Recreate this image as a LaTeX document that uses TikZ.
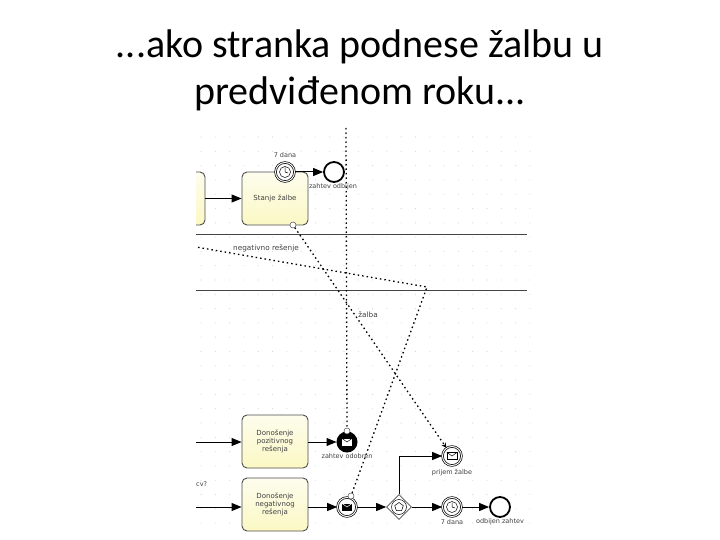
\documentclass[tikz,border=0pt]{standalone}
\usepackage{fontspec}
\setmainfont{Carlito}
\newfontfamily\bpmnfont{DejaVu Sans}
\usetikzlibrary{arrows.meta,shapes.geometric,shapes.misc}
\definecolor{taskfill}{HTML}{FBF8C4}
\definecolor{griddot}{HTML}{D4D4D4}
\definecolor{laneline}{HTML}{444444}
\begin{document}
\begin{tikzpicture}[
		x=1pt, y=-1pt,
		>={Triangle[length=10pt,width=8pt]},
		headline/.style={font=\fontsize{40}{47}\selectfont, align=center, text=black},
		taskbox/.style={rectangle, rounded corners=5pt, draw=black!70, line width=0.9pt, top color=white!70!taskfill, bottom color=taskfill, minimum width=66pt, minimum height=53pt, inner sep=0pt, align=center, font=\bpmnfont\fontsize{7}{8}\selectfont, text=black!75},
		evt/.style={circle, draw=black, line width=1pt, fill=white, minimum size=20pt, inner sep=0pt},
		endevt/.style={evt, line width=1.8pt},
		throwevt/.style={evt, double, double distance=1pt, line width=0.7pt, minimum size=19pt},
		blackevt/.style={evt, fill=black},
		gateway/.style={diamond, draw=black!70, line width=0.7pt, fill=white, minimum size=25pt, inner sep=0pt},
		smallmark/.style={circle, draw=black!70, line width=0.5pt, fill=white, minimum size=6pt, inner sep=0pt},
		evtlabel/.style={font=\bpmnfont\fontsize{6.5}{7}\selectfont, text=black!75, inner sep=0pt},
		biglabel/.style={evtlabel, font=\bpmnfont\fontsize{7.3}{8}\selectfont},
		seqflow/.style={->, line width=1pt, black},
		msgflow/.style={line width=1.3pt, black, dash pattern=on 1.5pt off 3pt},
		laneedge/.style={line width=0.9pt, laneline}
	]
		\useasboundingbox (0,0) rectangle (720,540);
		% heading
		\node[headline] (title) at (360,70) {...ako stranka podnese žalbu u\\predviđenom roku...};
		% grid
		\foreach \i in {0,...,23} {
			\foreach \j in {0,...,27} {
				\fill[griddot] ({201+14.3*\i},{137+14.3*\j}) circle (0.55pt);
			}
		}
		% lanes
		\coordinate (lane1L) at (196,234);
		\coordinate (lane1R) at (527,234);
		\coordinate (lane2L) at (196,290);
		\coordinate (lane2R) at (527,290);
		\draw[laneedge] (lane1L) -- (lane1R);
		\draw[laneedge] (lane2L) -- (lane2R);
		% tasks
		\begin{scope}
			\clip (196,160) rectangle (215,235);
			\node[taskbox] (prev) at (172,198.5) {};
		\end{scope}
		\node[taskbox] (stanje) at (275,198.5) {Stanje žalbe};
		\node[taskbox] (pozitivno) at (275,441.5) {Donošenje\\pozitivnog\\rešenja};
		\node[taskbox] (negativno) at (275,504.5) {Donošenje\\negativnog\\rešenja};
		% events
		\node[throwevt] (rok1) at (285,172) {};
		\node[endevt] (kraj1) at (334,172) {};
		\node[blackevt] (odobren) at (347,442) {};
		\node[throwevt] (poruka) at (347,507) {};
		\node[gateway] (izbor) at (399,507) {};
		\node[throwevt] (prijem) at (452,456) {};
		\node[throwevt] (rok2) at (452,507) {};
		\node[endevt] (kraj2) at (500,507) {};
		% clock marks
		\foreach \c in {rok1,rok2} {
			\draw[line width=0.5pt] (\c) circle (5.5pt);
			\draw[line width=0.5pt] (\c.center) -- ++(0,-4.5) (\c.center) -- ++(3,1);
		}
		% gateway mark
		\draw[line width=0.5pt] (izbor) circle (7.5pt);
		\node[regular polygon, regular polygon sides=5, draw, line width=0.5pt, minimum size=9pt, inner sep=0pt] (izborM) at (izbor) {};
		% envelopes
		\node[rectangle, fill=white, minimum width=10pt, minimum height=7pt, inner sep=0pt] (envA) at (odobren) {};
		\draw[line width=0.5pt] (envA.north west) -- (envA.center) -- (envA.north east);
		\node[rectangle, fill=black, minimum width=10pt, minimum height=7pt, inner sep=0pt] (envB) at (poruka) {};
		\draw[white, line width=0.5pt] (envB.north west) -- (envB.center) -- (envB.north east);
		\node[rectangle, draw, line width=0.5pt, minimum width=10pt, minimum height=7pt, inner sep=0pt] (envC) at (prijem) {};
		\draw[line width=0.5pt] (envC.north west) -- (envC.center) -- (envC.north east);
		% sequence flows
		\draw[seqflow] (prev) -- (stanje);
		\draw[seqflow] (rok1) -- (kraj1);
		\coordinate (ulaz1) at (196,442);
		\coordinate (ulaz2) at (196,507);
		\draw[seqflow] (ulaz1) -- (pozitivno.west |- ulaz1);
		\draw[seqflow] (ulaz2) -- (negativno.west |- ulaz2);
		\draw[seqflow] (pozitivno.east |- odobren) -- (odobren);
		\draw[seqflow] (negativno.east |- poruka) -- (poruka);
		\draw[seqflow] (poruka) -- (izbor);
		\draw[seqflow] (izbor) -- (rok2);
		\draw[seqflow] (rok2) -- (kraj2);
		\draw[seqflow] (izbor.north) |- (prijem);
		% message flows
		\node[smallmark] (granica) at (293,225) {};
		\node[smallmark] (odobrenM) at (347,431) {};
		\node[smallmark] (porukaM) at (351,496) {};
		\coordinate (vrh) at (346,128);
		\coordinate (lom) at (427,287);
		\coordinate (levo) at (196,247);
		\draw[msgflow] (vrh) -- (odobrenM);
		\draw[msgflow] (porukaM) -- (lom) -- (levo);
		\draw[msgflow, -{Stealth[length=5pt,width=5pt]}] (granica) -- (prijem);
		% labels
		\node[evtlabel] (l1) at (285,155) {7 dana};
		\node[evtlabel] (l2) at (333,187) {zahtev odbijen};
		\node[biglabel] (l3) at (266,248) {negativno rešenje};
		\node[biglabel] (l4) at (368,315) {žalba};
		\node[evtlabel] (l5) at (347,456) {zahtev odobren};
		\node[evtlabel] (l6) at (452,473) {prijem žalbe};
		\node[evtlabel] (l7) at (452,522) {7 dana};
		\node[evtlabel] (l8) at (500,522) {odbijen zahtev};
		\node[evtlabel, anchor=west] (l9) at (196,484) {cv?};
	\end{tikzpicture}
\end{document}
